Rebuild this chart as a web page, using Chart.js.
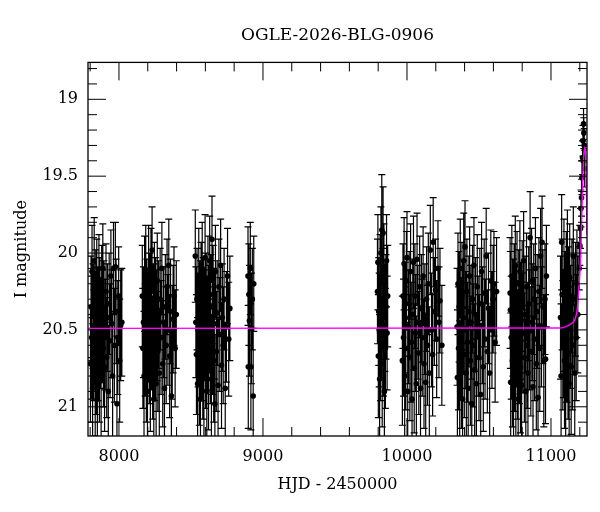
<!DOCTYPE html>
<html>
<head>
<meta charset="utf-8">
<title>OGLE-2026-BLG-0906</title>
<script src="https://cdn.jsdelivr.net/npm/chart.js@4.4.1/dist/chart.umd.min.js"></script>
<style>
  html, body { margin: 0; padding: 0; background: #fff; }
  #chart_lc { display: block; }
</style>
</head>
<body>
<canvas id="chart_lc" width="600" height="512"></canvas>
<script>
/* OGLE light curve: I magnitude vs HJD - 2450000, with the model curve */

// photometry, one line per season
var hjd = [
  7802,7806,7810,7813,7817,7820,7824,7828,7831,7835,7839,7842,7846,7850,7853,7857,7861,7864,7868,7872,7876,7880,7884,7888,7892,7896,7900,7905,7910,7915,7920,7926,7932,7938,7944,7950,7956,7962,7968,7975,7980,7986,7992,7998,8005,8012,8020,
  8162,8166,8170,8174,8178,8182,8186,8190,8194,8198,8202,8206,8210,8214,8218,8222,8226,8230,8234,8238,8242,8246,8250,8254,8258,8262,8266,8270,8275,8280,8286,8292,8298,8304,8310,8316,8322,8328,8334,8340,8346,8352,8358,8364,8370,8376,8382,8390,8398,
  8530,8534,8538,8542,8546,8550,8554,8558,8562,8566,8570,8574,8578,8582,8586,8590,8594,8598,8602,8606,8610,8614,8618,8622,8626,8630,8634,8638,8642,8646,8650,8654,8658,8662,8666,8670,8676,8682,8688,8694,8700,8706,8712,8718,8724,8730,8738,8746,8754,8762,8770,
  8896,8898,8902,8906,8912,8916,8920,8926,8932,8936,
  9795,9798,9801,9804,9807,9810,9813,9816,9819,9822,9825,9828,9831,9834,9837,9840,9843,9846,9850,9854,9858,9862,9866,
  9968,9972,9976,9980,9984,9988,9992,9996,10000,10005,10010,10015,10020,10025,10030,10035,10040,10045,10050,10055,10060,10065,10070,10076,10082,10088,10094,10100,10106,10112,10118,10124,10130,10136,10142,10148,10155,10162,10170,10178,10182,10190,10198,10206,10215,10222,10229,10242,
  10348,10350,10354,10358,10362,10366,10370,10374,10378,10382,10386,10390,10394,10398,10403,10408,10412,10416,10420,10425,10430,10435,10440,10445,10450,10455,10460,10465,10470,10476,10482,10488,10494,10500,10506,10512,10518,10524,10530,10536,10542,10550,10558,10566,10574,10582,10590,10598,10604,10612,10622,
  10716,10718,10720,10724,10728,10732,10736,10740,10744,10748,10752,10756,10760,10764,10768,10772,10776,10780,10784,10788,10792,10796,10800,10805,10810,10815,10820,10825,10830,10835,10840,10845,10850,10855,10860,10865,10870,10875,10880,10886,10892,10898,10904,10910,10916,10922,10928,10934,10938,10944,10950,10958,10962,10968,
  11066,11070,11074,11078,11082,11086,11090,11094,11098,11102,11106,11110,11114,11118,11122,11126,11130,11135,11140,11145,11150,11155,11160,11165,11170,11175,11180,11186,
  11196,11200,11205,11208,11212,11215,11219,11222,11226,11228,11231,11234
];
var imag = [
  20.72,20.35,20.55,20.12,20.88,20.41,20.60,20.05,20.49,20.78,20.30,20.66,20.22,20.95,20.44,20.58,20.18,20.70,20.36,20.52,20.83,20.27,20.47,20.10,20.62,20.39,20.75,20.53,20.25,20.68,20.42,20.90,20.33,20.57,20.15,20.46,20.80,20.10,20.60,20.09,20.38,20.98,20.55,20.28,20.70,20.47,20.45,
  20.28,20.62,20.45,20.80,20.20,20.55,20.12,20.70,20.38,20.90,20.48,20.11,20.60,20.33,20.75,20.15,20.52,19.98,20.68,20.42,20.95,20.25,20.58,20.37,20.85,20.47,20.18,20.64,20.40,20.78,20.30,20.55,20.10,20.72,20.45,20.88,20.35,20.60,20.22,20.50,20.08,20.67,20.38,20.93,20.58,20.43,20.28,20.62,20.40,
  20.02,20.45,20.66,20.30,20.85,20.50,20.15,20.72,20.40,20.95,20.25,20.58,20.10,20.68,20.37,20.80,20.47,20.03,20.62,20.33,20.90,20.52,20.20,20.74,20.43,20.05,20.60,20.35,20.82,19.91,20.55,20.27,20.70,20.46,20.98,20.12,20.64,20.39,20.86,20.22,20.53,20.08,20.73,20.42,20.60,20.30,20.88,20.48,20.15,20.56,20.36,
  20.15,20.74,20.27,20.44,20.10,20.74,20.49,20.30,20.93,20.20,
  20.25,20.06,20.67,20.38,20.50,20.82,20.20,20.58,20.00,20.45,19.85,20.72,20.30,19.87,20.55,20.12,20.90,20.42,20.62,20.35,20.05,20.52,20.28,
  20.70,20.28,20.55,20.07,20.80,20.42,20.62,20.18,20.03,20.90,20.48,20.33,20.68,20.12,20.58,20.95,20.40,20.06,20.75,20.28,20.52,20.85,20.04,20.45,20.65,20.22,20.88,20.36,20.55,20.15,20.72,20.43,20.84,20.30,20.60,20.20,20.78,19.98,20.50,20.66,19.93,20.38,20.24,20.56,20.10,20.45,20.31,20.60,
  20.48,20.81,20.20,20.62,20.35,20.90,20.10,20.55,20.72,20.28,20.95,20.42,20.05,20.66,19.96,20.50,20.78,20.25,20.58,20.88,20.38,20.15,20.70,20.45,20.98,20.30,20.60,20.08,20.76,20.40,20.85,20.22,20.54,20.68,20.33,20.92,20.12,20.47,20.74,20.26,20.56,20.02,20.64,20.36,20.78,20.18,20.50,20.30,20.20,20.58,20.25,
  20.26,20.37,20.84,20.55,20.15,20.70,20.42,20.92,20.30,20.62,20.08,20.78,20.48,20.20,20.66,20.95,20.35,20.58,20.12,20.74,20.44,20.86,20.28,20.52,20.05,20.68,20.40,20.90,20.22,20.60,20.78,20.33,20.50,19.90,20.64,20.18,20.45,20.87,20.30,20.56,20.10,20.72,20.38,20.94,20.25,20.62,20.02,20.48,19.93,20.35,20.70,20.30,20.69,20.15,
  20.42,20.80,19.93,20.27,20.60,20.53,20.12,20.70,20.38,20.92,20.22,20.56,20.05,20.65,20.34,20.85,20.16,20.48,20.74,20.28,20.60,20.02,20.40,20.78,20.30,20.55,20.20,20.40,
  20.10,19.95,19.84,19.71,19.64,19.51,19.38,19.27,19.16,19.22,19.30,19.45
];
var ierr = [
  0.38,0.33,0.40,0.30,0.42,0.34,0.36,0.28,0.37,0.41,0.32,0.39,0.31,0.44,0.35,0.38,0.30,0.40,0.33,0.36,0.42,0.32,0.36,0.29,0.38,0.34,0.41,0.36,0.31,0.39,0.35,0.43,0.33,0.37,0.30,0.35,0.41,0.30,0.37,0.29,0.34,0.44,0.37,0.32,0.40,0.36,0.35,
  0.33,0.39,0.36,0.42,0.31,0.38,0.30,0.40,0.34,0.44,0.36,0.29,0.38,0.33,0.41,0.31,0.37,0.28,0.40,0.35,0.45,0.32,0.38,0.34,0.43,0.36,0.31,0.39,0.35,0.42,0.33,0.37,0.30,0.41,0.36,0.43,0.34,0.38,0.31,0.36,0.30,0.40,0.34,0.44,0.37,0.35,0.32,0.38,0.35,
  0.30,0.36,0.39,0.33,0.43,0.37,0.31,0.40,0.35,0.45,0.32,0.38,0.30,0.40,0.34,0.42,0.36,0.28,0.39,0.33,0.44,0.37,0.31,0.41,0.35,0.29,0.38,0.34,0.42,0.28,0.37,0.32,0.40,0.36,0.45,0.30,0.39,0.34,0.43,0.31,0.37,0.30,0.41,0.35,0.38,0.33,0.43,0.36,0.31,0.37,0.34,
  0.32,0.40,0.33,0.36,0.30,0.41,0.36,0.33,0.44,0.31,
  0.34,0.31,0.40,0.35,0.37,0.42,0.32,0.38,0.30,0.36,0.36,0.41,0.33,0.30,0.38,0.31,0.44,0.35,0.39,0.34,0.30,0.37,0.33,
  0.42,0.34,0.38,0.30,0.43,0.36,0.40,0.32,0.30,0.45,0.37,0.34,0.41,0.31,0.39,0.46,0.36,0.30,0.42,0.34,0.38,0.44,0.30,0.37,0.40,0.33,0.44,0.35,0.38,0.32,0.42,0.36,0.45,0.34,0.39,0.33,0.43,0.29,0.37,0.40,0.29,0.35,0.33,0.38,0.31,0.36,0.34,0.39,
  0.38,0.44,0.33,0.40,0.36,0.46,0.32,0.39,0.42,0.35,0.47,0.37,0.31,0.41,0.30,0.38,0.43,0.34,0.39,0.45,0.36,0.32,0.42,0.37,0.48,0.35,0.40,0.31,0.43,0.37,0.45,0.34,0.39,0.41,0.36,0.46,0.32,0.38,0.42,0.35,0.39,0.31,0.40,0.36,0.43,0.33,0.38,0.35,0.34,0.39,0.35,
  0.36,0.38,0.45,0.40,0.33,0.43,0.38,0.47,0.36,0.41,0.32,0.44,0.39,0.34,0.42,0.48,0.37,0.40,0.33,0.43,0.38,0.46,0.36,0.39,0.32,0.42,0.38,0.47,0.35,0.41,0.44,0.37,0.39,0.30,0.42,0.34,0.38,0.46,0.36,0.40,0.33,0.43,0.37,0.48,0.35,0.41,0.31,0.39,0.30,0.37,0.43,0.36,0.42,0.33,
  0.40,0.47,0.31,0.36,0.42,0.41,0.34,0.44,0.39,0.48,0.36,0.41,0.33,0.43,0.38,0.47,0.35,0.40,0.44,0.37,0.42,0.32,0.39,0.45,0.37,0.41,0.35,0.38,
  0.14,0.13,0.13,0.12,0.12,0.11,0.11,0.10,0.10,0.10,0.11,0.12
];

// model light curve
var modelHjd = [7785, 11050, 11100, 11140, 11167, 11180, 11188, 11196, 11202, 11209, 11215, 11222, 11229, 11235, 11241, 11246, 11250];
var modelMag = [20.49, 20.488, 20.48, 20.46, 20.43, 20.38, 20.30, 20.20, 20.10, 19.92, 19.70, 19.48, 19.35, 19.31, 19.38, 19.60, 19.88];

// axes
var xTicks = [8000, 9000, 10000, 11000];
var xMinorTicks = [7800, 8200, 8400, 8600, 8800, 9200, 9400, 9600, 9800, 10200, 10400, 10600, 10800, 11200];
var yTicks = [19, 19.5, 20, 20.5, 21];
var yMinorTicks = [18.8, 18.9, 19.1, 19.2, 19.3, 19.4, 19.6, 19.7, 19.8, 19.9, 20.1, 20.2, 20.3, 20.4, 20.6, 20.7, 20.8, 20.9, 21.1];

Chart.defaults.font.family = '"DejaVu Serif", "Liberation Serif", serif';
Chart.defaults.color = '#000';

var points = [];
var n = Math.min(hjd.length, imag.length, ierr.length);
for (var i = 0; i < n; i++) points.push({ x: hjd[i], y: imag[i] });

var model = modelHjd.map(function(t, k) { return { x: t, y: modelMag[k] }; });

// vertical error bars with caps, drawn under the points
var errorBars = {
    id: 'errorBars',
    beforeDatasetsDraw: function(chart) {
        var ctx = chart.ctx, a = chart.chartArea;
        var xs = chart.scales.x, ys = chart.scales.y;
        ctx.save();
        ctx.beginPath();
        ctx.rect(a.left, a.top, a.right - a.left, a.bottom - a.top);
        ctx.clip();
        ctx.strokeStyle = '#000';
        ctx.lineWidth = 1.2;
        ctx.beginPath();
        for (var i = 0; i < n; i++) {
            var px = xs.getPixelForValue(hjd[i]);
            var y1 = ys.getPixelForValue(imag[i] - ierr[i]);
            var y2 = ys.getPixelForValue(imag[i] + ierr[i]);
            ctx.moveTo(px, y1); ctx.lineTo(px, y2);
            ctx.moveTo(px - 3.5, y1); ctx.lineTo(px + 3.5, y1);
            ctx.moveTo(px - 3.5, y2); ctx.lineTo(px + 3.5, y2);
        }
        ctx.stroke();
        ctx.restore();
    }
};

// box frame with inward ticks on all four sides
var frameTicks = {
    id: 'frameTicks',
    afterDraw: function(chart) {
        var ctx = chart.ctx, a = chart.chartArea;
        var xs = chart.scales.x, ys = chart.scales.y;
        ctx.save();
        ctx.strokeStyle = '#000';
        ctx.lineWidth = 1;
        ctx.beginPath();
        function xt(v, len) {
            var p = xs.getPixelForValue(v);
            ctx.moveTo(p, a.bottom); ctx.lineTo(p, a.bottom - len);
            ctx.moveTo(p, a.top); ctx.lineTo(p, a.top + len);
        }
        function yt(v, len) {
            var p = ys.getPixelForValue(v);
            ctx.moveTo(a.left, p); ctx.lineTo(a.left + len, p);
            ctx.moveTo(a.right, p); ctx.lineTo(a.right - len, p);
        }
        xTicks.forEach(function(v) { xt(v, 18); });
        xMinorTicks.forEach(function(v) { xt(v, 9); });
        yTicks.forEach(function(v) { yt(v, 18); });
        yMinorTicks.forEach(function(v) { yt(v, 9); });
        ctx.stroke();
        ctx.lineWidth = 1.3;
        ctx.strokeRect(a.left, a.top, a.right - a.left, a.bottom - a.top);
        ctx.restore();
    }
};

var ctx_lc = document.getElementById('chart_lc');

const chart_lc = new Chart(ctx_lc, {
    type: 'scatter',
    data: {
        datasets: [
            {
                type: 'line',
                label: 'model',
                data: model,
                borderColor: '#ff00ff',
                borderWidth: 1.4,
                pointRadius: 0,
                fill: false,
                cubicInterpolationMode: 'monotone',
                order: 0
            },
            {
                label: 'OGLE I',
                data: points,
                backgroundColor: '#000',
                borderWidth: 0,
                pointRadius: 2.8,
                order: 1
            }
        ]
    },
    options: {
        responsive: false,
        animation: false,
        layout: { padding: { top: 19, right: 13, left: 0, bottom: 0 } },
        plugins: {
            legend: { display: false },
            tooltip: { enabled: false },
            title: {
                display: true,
                fullSize: false,
                text: 'OGLE-2026-BLG-0906',
                color: '#000',
                font: { size: 17, weight: 'normal' },
                padding: { top: 6, bottom: 17 }
            }
        },
        scales: {
            x: {
                type: 'linear',
                min: 7785,
                max: 11250,
                afterBuildTicks: function(s) { s.ticks = xTicks.map(function(v) { return { value: v }; }); },
                afterFit: function(s) { s.height = 76; },
                grid: { display: false, drawTicks: false },
                border: { display: false },
                ticks: {
                    padding: 11,
                    font: { size: 16 },
                    color: '#000',
                    maxRotation: 0,
                    callback: function(v) { return String(v); }
                },
                title: {
                    display: true,
                    text: 'HJD - 2450000',
                    color: '#000',
                    font: { size: 16 },
                    padding: { top: 0, bottom: 18 }
                }
            },
            y: {
                type: 'linear',
                reverse: true,
                min: 18.76,
                max: 21.19,
                afterBuildTicks: function(s) { s.ticks = yTicks.map(function(v) { return { value: v }; }); },
                afterFit: function(s) { s.width = 88; },
                grid: { display: false, drawTicks: false },
                border: { display: false },
                ticks: {
                    padding: 10,
                    font: { size: 16 },
                    color: '#000',
                    callback: function(v) { return String(v); }
                },
                title: {
                    display: true,
                    text: 'I magnitude',
                    color: '#000',
                    font: { size: 16 },
                    padding: { top: 12, bottom: 0 }
                }
            }
        }
    },
    plugins: [errorBars, frameTicks]
});
</script>
</body>
</html>
